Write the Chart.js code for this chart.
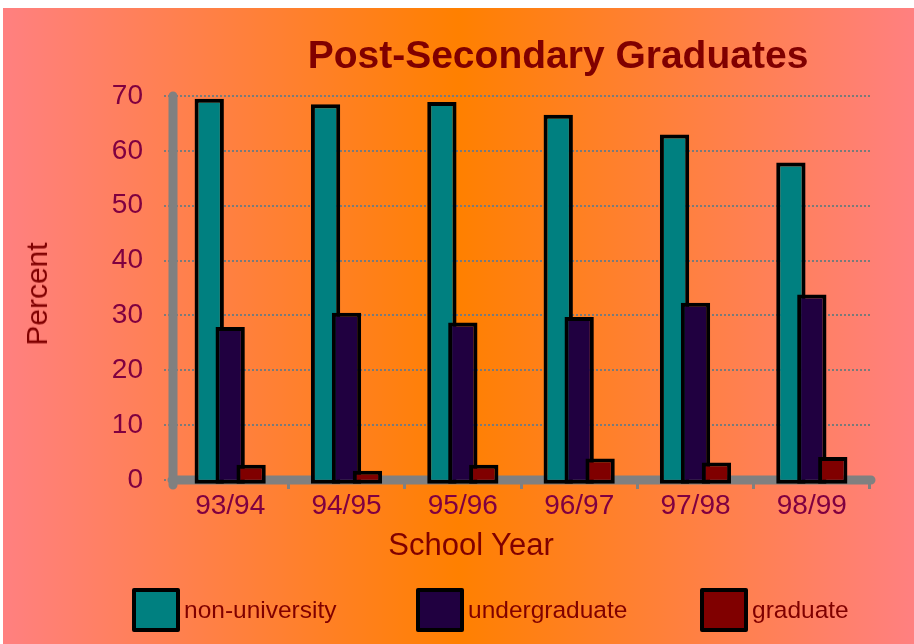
<!DOCTYPE html>
<html>
<head>
<meta charset="utf-8">
<script src="https://cdn.jsdelivr.net/npm/chart.js@4.4.1/dist/chart.umd.min.js"></script>
<style>
  html, body { margin: 0; padding: 0; background: #fff; }
  #frame {
    position: relative; width: 914px; height: 644px; overflow: hidden;
    font-family: "Liberation Sans", Arial, sans-serif;
  }
  #bg {
    position: absolute; left: 3px; top: 8px; right: 0; bottom: 0;
    background: linear-gradient(to right, #ff8080 0%, #ff8000 50%, #ff8080 100%);
  }
  #c { position: absolute; left: 0; top: 0; }
  .txt { position: absolute; white-space: nowrap; color: #800000; }
  #title { left: 558px; top: 54px; font-size: 39px; font-weight: bold; line-height: 39px; transform: translate(-50%, -50%); }
  #ytitle { left: 37px; top: 294px; font-size: 30px; line-height: 30px; transform: translate(-50%, -50%) rotate(-90deg); }
  #xtitle { left: 471px; top: 544px; font-size: 31px; line-height: 31px; transform: translate(-50%, -50%); }
  .item { position: absolute; top: 588px; height: 44px; display: flex; align-items: center; }
  .swatch { width: 48px; height: 44px; box-sizing: border-box; border: 4px solid #000; border-radius: 2px; }
  .item span { margin-left: 4px; font-size: 24.5px; line-height: 24px; color: #800000; }
</style>
</head>
<body>
<div id="frame">
  <div id="bg"></div>
  <canvas id="c" width="914" height="644"></canvas>
  <div class="txt" id="title">Post-Secondary Graduates</div>
  <div class="txt" id="ytitle">Percent</div>
  <div class="txt" id="xtitle">School Year</div>
  <div id="legend"></div>
</div>
<script>
const years = ['93/94', '94/95', '95/96', '96/97', '97/98', '98/99'];
const nonUniversity = [69.5, 68.5, 68.9, 66.6, 63.0, 57.9];
const undergraduate = [27.9, 30.5, 28.7, 29.7, 32.3, 33.8];
const graduate = [2.8, 1.7, 2.8, 3.9, 3.2, 4.2];

const seriesNames = ['non-university', 'undergraduate', 'graduate'];
const seriesColors = ['#008080', '#200040', '#800000'];

const tickColor = '#800040';
const axisGray = '#808080';

// bars overlap inside each group; paint them left to right so each one sits on top of its neighbour
const paintLeftToRight = {
  id: 'paintLeftToRight',
  beforeDatasetDraw() { return false; },
  afterDatasetsDraw(chart) {
    chart.getSortedVisibleDatasetMetas().forEach(meta => meta.controller.draw());
  }
};

// thick grey axis lines with rounded ends
const axisLines = {
  id: 'axisLines',
  beforeDatasetsDraw(chart) {
    const { ctx, chartArea: a, scales: { y } } = chart;
    const zero = y.getPixelForValue(0);
    ctx.save();
    ctx.strokeStyle = axisGray;
    ctx.lineWidth = 9;
    ctx.lineCap = 'round';
    ctx.beginPath();
    ctx.moveTo(a.left + 1, zero + 5);
    ctx.lineTo(a.left + 1, a.top);
    ctx.moveTo(a.left, zero);
    ctx.lineTo(a.right + 1, zero);
    ctx.stroke();
    ctx.restore();
  }
};

const makeSet = (i, data) => ({
  label: seriesNames[i],
  data: data,
  backgroundColor: seriesColors[i],
  borderColor: '#000',
  borderWidth: 4,
  borderSkipped: false,
  base: -0.7
});

const chart = new Chart(document.getElementById('c'), {
  type: 'bar',
  data: {
    labels: years,
    datasets: [
      makeSet(0, nonUniversity),
      makeSet(1, undergraduate),
      makeSet(2, graduate)
    ]
  },
  options: {
    responsive: false,
    animation: false,
    devicePixelRatio: 1,
    categoryPercentage: 0.54,
    barPercentage: 1.4,
    layout: { padding: { left: 0, top: 96, right: 44, bottom: 124 } },
    plugins: {
      legend: { display: false },
      title: { display: false },
      tooltip: { enabled: false }
    },
    scales: {
      x: {
        afterFit: scale => { scale.height = 40 },
        grid: {
          drawOnChartArea: false,
          drawTicks: true,
          tickLength: 9,
          color: axisGray,
          lineWidth: 3
        },
        border: { display: false },
        ticks: {
          padding: 0,
          color: tickColor,
          font: { family: '"Liberation Sans", Arial, sans-serif', size: 28 }
        }
      },
      y: {
        min: 0,
        max: 70,
        afterFit: scale => { scale.width = 172 },
        grid: {
          color: '#7a7a7a',
          lineWidth: 2,
          tickLength: 8,
          tickBorderDash: [2, 2]
        },
        border: { display: false, dash: [2, 2] },
        ticks: {
          stepSize: 5,
          padding: 21,
          color: tickColor,
          font: { family: '"Liberation Sans", Arial, sans-serif', size: 28 },
          callback: v => (v % 10 === 0 ? v : '')
        }
      }
    }
  },
  plugins: [axisLines, paintLeftToRight]
});

// legend row below the plot
const legend = document.getElementById('legend');
chart.data.datasets.forEach((ds, i) => {
  const item = document.createElement('div');
  item.className = 'item';
  item.style.left = (132 + i * 284) + 'px';
  const sw = document.createElement('div');
  sw.className = 'swatch';
  sw.style.background = ds.backgroundColor;
  const label = document.createElement('span');
  label.textContent = ds.label;
  item.appendChild(sw);
  item.appendChild(label);
  legend.appendChild(item);
});
</script>
</body>
</html>
